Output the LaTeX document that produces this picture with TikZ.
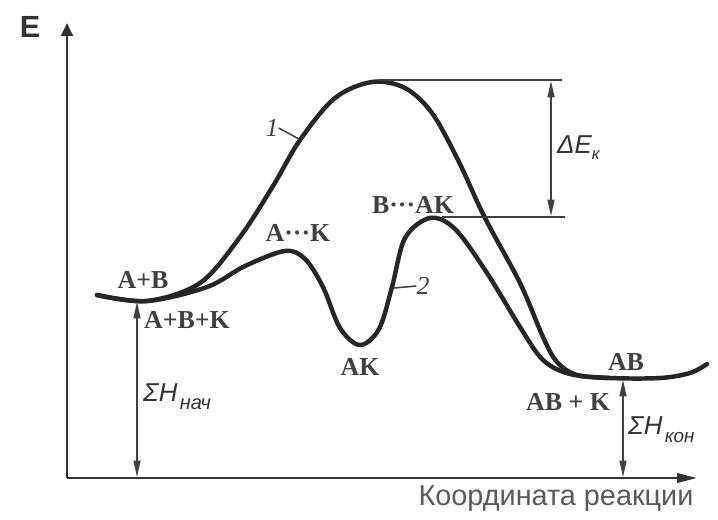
\documentclass[tikz,border=0pt]{standalone}
\usepackage{fontspec}
\setmainfont{Liberation Serif}
\newfontfamily\sansf{Liberation Sans}
\usetikzlibrary{arrows.meta}
\begin{document}
\begin{tikzpicture}[x=0.85pt,y=-0.85pt,
  curve/.style={line width=3.8pt, line join=round, line cap=round, color=black!85},
  axis/.style={line width=2.2pt, color=black!80},
  thinl/.style={line width=1.3pt, color=black!75},
  dimarr/.style={thinl, {Triangle[length=14pt,width=6pt]}-{Triangle[length=14pt,width=6pt]}},
  lbl/.style={font=\bfseries\fontsize{22}{26}\selectfont, text=black!75, inner sep=0pt},
  sym/.style={font=\sansf\itshape\fontsize{22}{24}\selectfont, text=black!80, inner sep=0pt},
]
\useasboundingbox (0,0) rectangle (718,519);

% axes
\coordinate (O) at (67,478);
\coordinate (ytop) at (67,23);
\coordinate (xend) at (697,478);
\draw[axis, -{Triangle[length=11pt,width=10pt]}] (O) -- (ytop);
\draw[axis, -{Triangle[length=17pt,width=8pt]}] (O) -- (xend);
\node[font=\sansf\bfseries\fontsize{26}{28}\selectfont, text=black!80, inner sep=0pt] (E) at (30,27) {E};
\node[font=\sansf\fontsize{24.5}{28}\selectfont, text=black!65, inner sep=0pt] (xlab) at (556,499) {Координата реакции};

% curve 2 (with catalyst)
\draw[curve] plot[smooth, tension=0.55] coordinates {(97,295) (147,301) (207,287) (245,266) (285,251) (305,259) (323,287) (340,328) (360,345) (379,329) (392,287) (405,238) (430,218) (455,229) (487,273) (520,327) (543,360) (570,374) (610,378) (660,378) (690,373) (707,364)};
% curve 1 (without catalyst)
\draw[curve] plot[smooth, tension=0.55] coordinates {(97,295) (147,301) (200,283) (240,237) (273,186) (300,140) (335,98) (372,82) (405,88) (432,113) (458,160) (485,218) (520,283) (543,337) (557,362) (577,375) (610,378)};

% activation energy lines
\coordinate (pk1) at (378,80);
\coordinate (pk1r) at (562,80);
\coordinate (pk2) at (442,217);
\coordinate (pk2r) at (565,217);
\draw[thinl] (pk1) -- (pk1r);
\draw[thinl] (pk2) -- (pk2r);
\coordinate (dEt) at (551,81);
\coordinate (dEb) at (551,216);
\draw[dimarr] (dEt) -- (dEb);
\node[sym, anchor=west] (dE) at (557,148) {ΔE\raisebox{-5pt}{\fontsize{14}{15}\selectfont к}};

% enthalpy arrows
\coordinate (Hn1) at (137,302);
\coordinate (Hn0) at (137,477);
\draw[dimarr] (Hn0) -- (Hn1);
\node[sym, anchor=west] (Hn) at (143,397) {ΣH\hspace{2pt}\raisebox{-7pt}{\fontsize{17}{18}\selectfont нач}};
\coordinate (Hk1) at (623,380);
\coordinate (Hk0) at (623,477);
\draw[dimarr] (Hk0) -- (Hk1);
\node[sym, anchor=west] (Hk) at (628,430) {ΣH\hspace{2pt}\raisebox{-7pt}{\fontsize{16}{17}\selectfont кон}};

% labels
\node[lbl] (ab) at (143,280) {A+B};
\node[lbl] (abk) at (187,320) {A+B+K};
\node[lbl] (ak1) at (298,233) {A···K};
\node[lbl] (bak) at (413,205) {B···AK};
\node[lbl] (ak) at (360,367) {AK};
\node[lbl] (abp) at (626,362) {AB};
\node[lbl] (abpk) at (568,402) {AB + K};

% curve numbers
\node[lbl, font=\itshape\fontsize{22}{24}\selectfont] (n1) at (272,128) {1};
\coordinate (t1) at (299,139);
\draw[thinl] (n1.east) -- (t1);
\node[lbl, font=\itshape\fontsize{22}{24}\selectfont] (n2) at (423,286) {2};
\coordinate (t2) at (394,288);
\draw[thinl] (t2) -- (n2.west);
\end{tikzpicture}
\end{document}
